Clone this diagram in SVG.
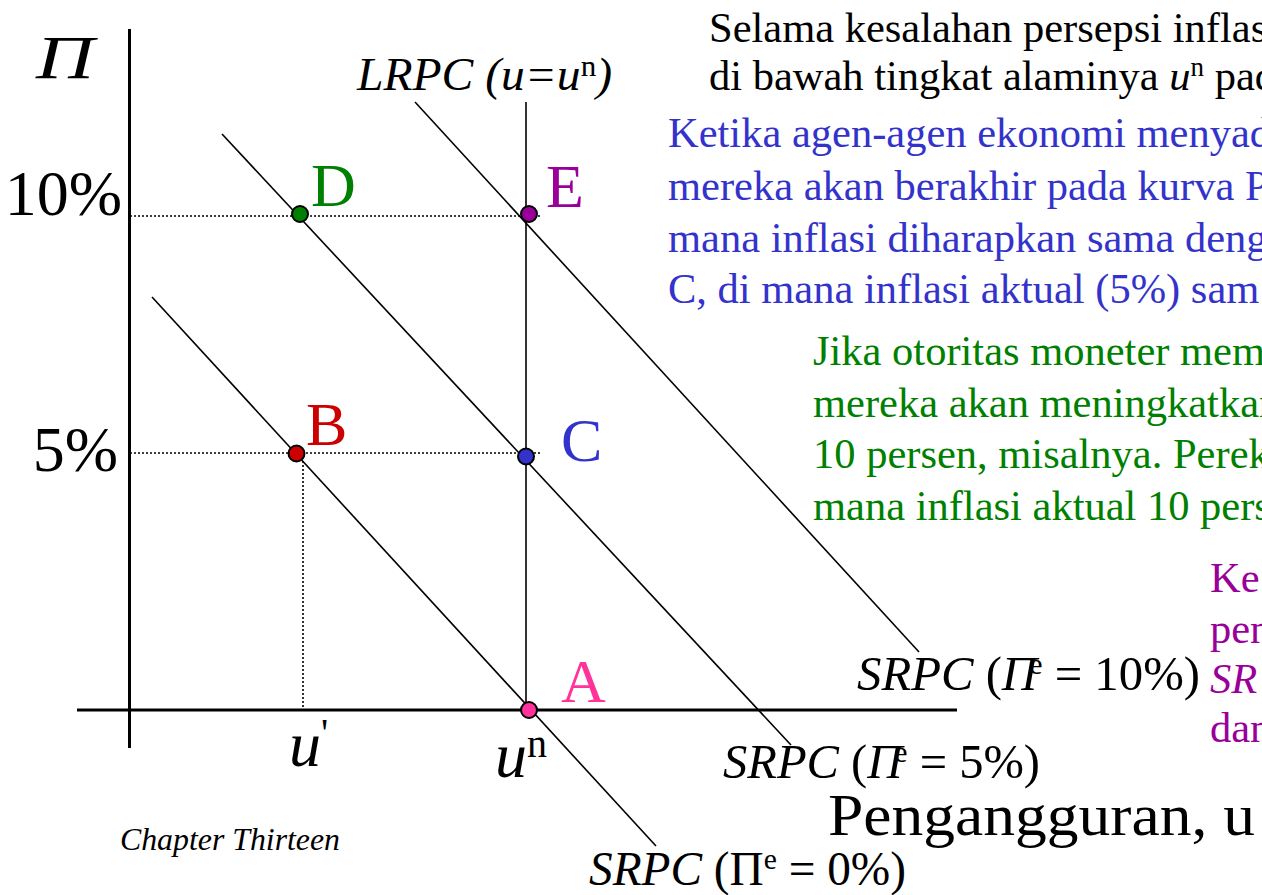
<svg xmlns="http://www.w3.org/2000/svg" width="1262" height="895" viewBox="0 0 1262 895">
<style>
text{font-family:"Liberation Serif","Times New Roman",serif;}
.it{font-style:italic;}
.axis{stroke:#000;stroke-width:3;fill:none;}
.curve{stroke:#000;stroke-width:1.6;fill:none;}
.dot{stroke:#000;stroke-width:1.6;stroke-dasharray:2 2;fill:none;}
.pt{stroke:#000;stroke-width:2;}
.big{font-size:64px;}
.lbl{font-size:62px;}
.para{font-size:42.5px;}
.srpc{font-size:48px;}
</style>
<rect width="1262" height="895" fill="#fff"/>

<g id="axes">
<line class="axis" x1="129.5" y1="29" x2="129.5" y2="748"/>
<line class="axis" x1="77" y1="710" x2="957" y2="710"/>
<text class="it" x="36" y="78" font-size="62" textLength="58" lengthAdjust="spacingAndGlyphs">Π</text>
<text class="big" x="122" y="215" text-anchor="end">10%</text>
<text class="big" x="118" y="471" text-anchor="end">5%</text>
<text class="it" x="289" y="766" font-size="64">u</text>
<text x="321" y="746" font-size="40">'</text>
<text class="it" x="495" y="777" font-size="64">u</text>
<text x="527" y="757" font-size="40">n</text>
<text x="828" y="835" font-size="60" textLength="427" lengthAdjust="spacingAndGlyphs">Pengangguran, u</text>
<text class="it" x="120" y="850" font-size="32" textLength="220" lengthAdjust="spacingAndGlyphs">Chapter Thirteen</text>
</g>

<g id="connectors">
<line class="dot" x1="130" y1="216" x2="540" y2="216"/>
<line class="dot" x1="130" y1="453" x2="540" y2="453"/>
<line class="dot" x1="303" y1="453" x2="303" y2="708"/>
<line class="curve" x1="526" y1="102" x2="526" y2="710"/>
<line class="curve" x1="152" y1="297" x2="656" y2="846"/>
<line class="curve" x1="222" y1="134" x2="791" y2="745"/>
<line class="curve" x1="415" y1="102" x2="919" y2="652"/>
</g>

<g id="LRPC">
<text class="it" x="357" y="90" font-size="46" textLength="255" lengthAdjust="spacingAndGlyphs">LRPC (u=u<tspan font-style="normal" font-size="30" dy="-14">n</tspan><tspan dy="14">)</tspan></text>
</g>

<g id="SRPC10">
<text class="srpc" x="857" y="690" textLength="343" lengthAdjust="spacingAndGlyphs"><tspan class="it">SRPC</tspan> (<tspan class="it">Π</tspan><tspan font-size="30" dx="-8" dy="-16">e</tspan><tspan dy="16"> = 10%)</tspan></text>
</g>
<g id="SRPC5">
<text class="srpc" x="723" y="778" textLength="317" lengthAdjust="spacingAndGlyphs"><tspan class="it">SRPC</tspan> (<tspan class="it">Π</tspan><tspan font-size="30" dx="-8" dy="-16">e</tspan><tspan dy="16"> = 5%)</tspan></text>
</g>
<g id="SRPC0">
<text class="srpc" x="589" y="885" textLength="317" lengthAdjust="spacingAndGlyphs"><tspan class="it">SRPC</tspan> (Π<tspan font-size="30" dy="-16">e</tspan><tspan dy="16"> = 0%)</tspan></text>
</g>

<g id="D">
<circle class="pt" cx="300" cy="214" r="8" fill="#008000"/>
<text class="lbl" x="311" y="206" fill="#008000">D</text>
</g>
<g id="E">
<circle class="pt" cx="529" cy="214" r="8" fill="#990099"/>
<text class="lbl" x="546" y="207" fill="#990099">E</text>
</g>
<g id="B">
<circle class="pt" cx="296.5" cy="453.5" r="8" fill="#CC0000"/>
<text class="lbl" x="306" y="445" fill="#CC0000">B</text>
</g>
<g id="C">
<circle class="pt" cx="526" cy="456.5" r="8" fill="#3333CC"/>
<text class="lbl" x="561" y="461" fill="#3333CC">C</text>
</g>
<g id="A">
<circle class="pt" cx="529" cy="710" r="8" fill="#FF3399"/>
<text class="lbl" x="561" y="702" fill="#FF3399">A</text>
</g>

<g id="note-black" fill="#000">
<text class="para" x="709" y="42">Selama kesalahan persepsi inflas</text>
<text class="para" x="709" y="90">di bawah tingkat alaminya <tspan class="it">u</tspan><tspan font-size="27" dy="-14">n</tspan><tspan dy="14"> pad</tspan></text>
</g>
<g id="note-blue" fill="#3333CC">
<text class="para" x="668" y="147">Ketika agen-agen ekonomi menyad</text>
<text class="para" x="668" y="200">mereka akan berakhir pada kurva P</text>
<text class="para" x="668" y="252">mana inflasi diharapkan sama deng</text>
<text class="para" x="668" y="303">C, di mana inflasi aktual (5%) sam</text>
</g>
<g id="note-green" fill="#008000">
<text class="para" x="813" y="365">Jika otoritas moneter mem</text>
<text class="para" x="813" y="417">mereka akan meningkatkan</text>
<text class="para" x="813" y="468">10 persen, misalnya. Perek</text>
<text class="para" x="813" y="520">mana inflasi aktual 10 pers</text>
</g>
<g id="note-purple" fill="#990099">
<text class="para" x="1210" y="592">Ke</text>
<text class="para" x="1210" y="643">pen</text>
<text class="para it" x="1210" y="693">SR</text>
<text class="para" x="1210" y="742">dan</text>
</g>
</svg>
